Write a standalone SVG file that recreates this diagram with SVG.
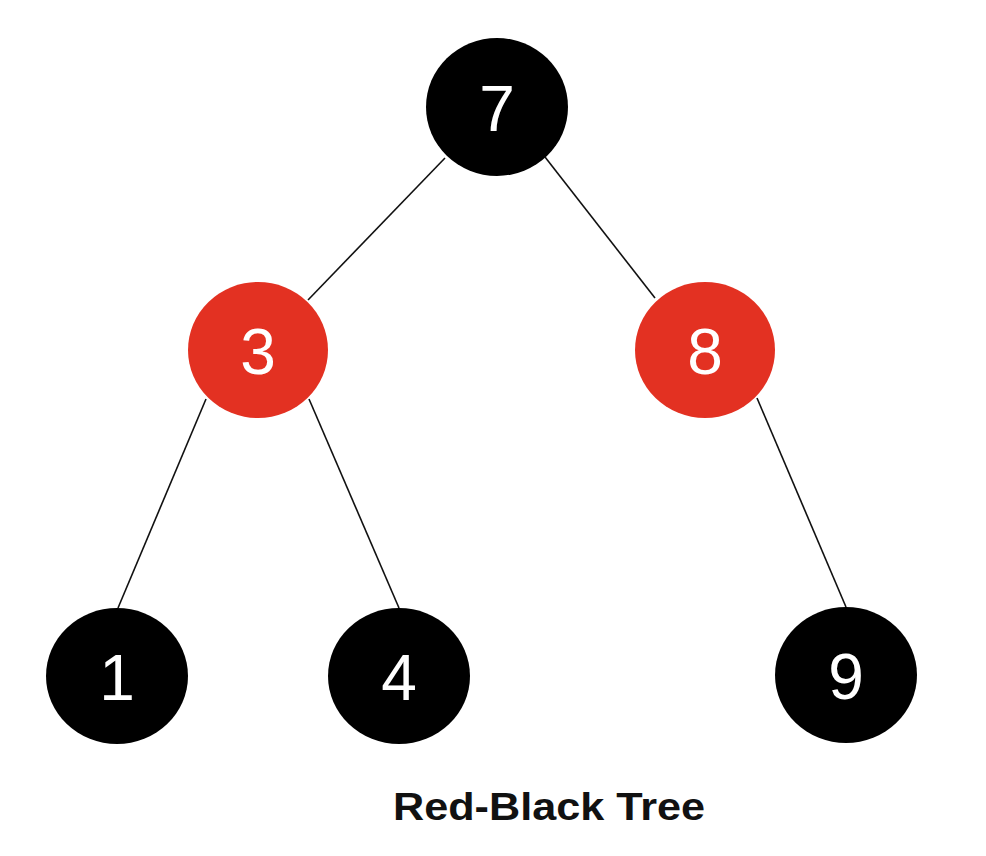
<svg xmlns="http://www.w3.org/2000/svg" width="986" height="856" viewBox="0 0 986 856">
<style>
.edge{stroke:#111;stroke-width:1.6;fill:none}
.blk{fill:#000}
.red{fill:#e33122}
.lbl{font-family:"Liberation Sans",Arial,sans-serif;font-size:64px;fill:#fff;text-anchor:middle}
.title{font-family:"Liberation Sans",Arial,sans-serif;font-size:39px;font-weight:bold;fill:#111;text-anchor:middle}
</style>
<rect width="986" height="856" fill="#fff"/>
<g id="connectors">
<line class="edge" x1="445" y1="158" x2="308" y2="300"/>
<line class="edge" x1="545" y1="157" x2="655" y2="298"/>
<line class="edge" x1="206" y1="399" x2="118" y2="608"/>
<line class="edge" x1="309" y1="399" x2="399" y2="608"/>
<line class="edge" x1="757" y1="398" x2="846" y2="607"/>
</g>
<g id="node7"><ellipse class="blk" cx="497" cy="107" rx="71" ry="69"/><text class="lbl" x="497" y="131">7</text></g>
<g id="node3"><ellipse class="red" cx="258" cy="350" rx="70" ry="68"/><text class="lbl" x="258" y="374">3</text></g>
<g id="node8"><ellipse class="red" cx="705" cy="350" rx="70" ry="68"/><text class="lbl" x="705" y="374">8</text></g>
<g id="node1"><ellipse class="blk" cx="117" cy="676" rx="71" ry="68"/><text class="lbl" x="117" y="700">1</text></g>
<g id="node4"><ellipse class="blk" cx="399" cy="676" rx="71" ry="68"/><text class="lbl" x="399" y="700">4</text></g>
<g id="node9"><ellipse class="blk" cx="846" cy="675" rx="71" ry="68"/><text class="lbl" x="846" y="699">9</text></g>
<text class="title" x="549" y="820" textLength="312" lengthAdjust="spacingAndGlyphs">Red-Black Tree</text>
</svg>
